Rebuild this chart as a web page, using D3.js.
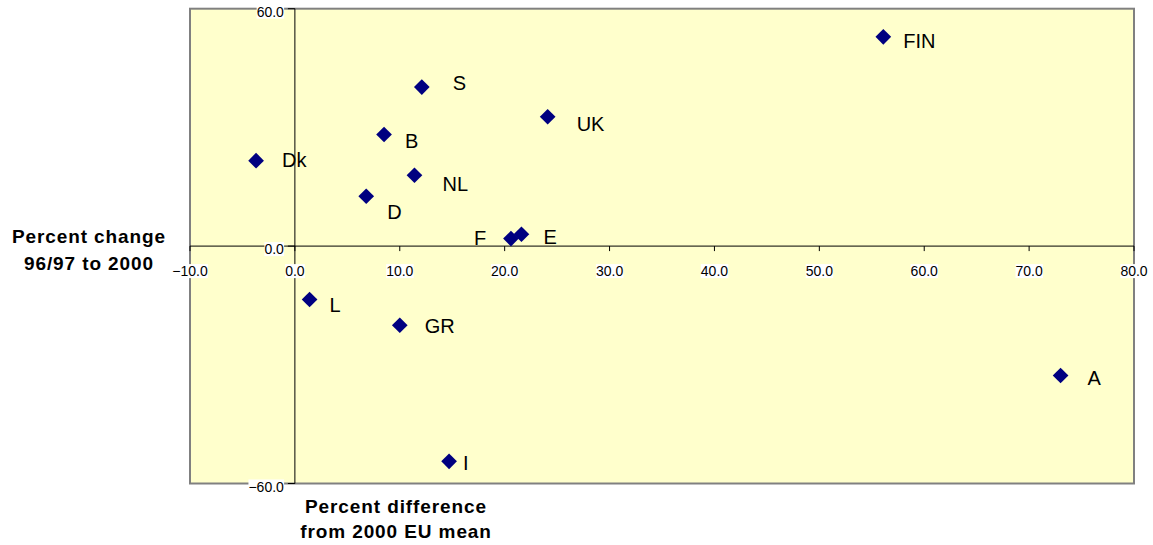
<!DOCTYPE html>
<html><head><meta charset="utf-8">
<script src="https://cdn.jsdelivr.net/npm/d3@7"></script>
<style>
html,body{margin:0;padding:0;background:#fff;}
svg{display:block;font-family:"Liberation Sans",Arial,sans-serif;}
</style></head>
<body>
<svg id="chart" width="1153" height="545"></svg>
<script>
// ---- data ----
const countries = ["FIN","A","I","GR","L","Dk","B","D","S","UK","NL","F","E"];
const pctDiffFromMean = [56.1, 73.0, 14.7, 10.0, 1.4, -3.7, 8.5, 6.8, 12.1, 24.1, 11.4, 20.6, 21.6];
const pctChange = [52.9, -32.7, -54.4, -20.0, -13.5, 21.6, 28.2, 12.6, 40.2, 32.7, 17.9, 1.9, 3.0];
const xTicks = [-10,0,10,20,30,40,50,60,70,80];
const yTicks = [60,0,-60];
const yTitleLines = ["Percent change","96/97 to 2000"];
const xTitleLines = ["Percent difference","from 2000 EU mean"];

// label placement (px offsets from marker: start x, cap-centre y)
const labelOffset = {FIN:[20,4],A:[27,3],I:[14,2],GR:[25,1],L:[20,5],Dk:[26,-1],
  B:[21,6],D:[21,16],S:[31,-4],UK:[29,7],NL:[28,9],F:[-37,-1],E:[22,3]};

const svg = d3.select("#chart");
const x = d3.scaleLinear().domain([-10,80]).range([190,1134]);
const y = d3.scaleLinear().domain([-60,60]).range([483.5,8.7]);

// plot area
svg.append("rect").attr("x",x(-10)).attr("y",y(60)).attr("width",x(80)-x(-10)).attr("height",y(-60)-y(60))
  .attr("fill","#FFFFCC").attr("stroke","#808080").attr("stroke-width",2);

const axisG = svg.append("g");
// x axis line at y=0
axisG.append("line").attr("x1",x(-10)).attr("x2",x(80)).attr("y1",y(0)).attr("y2",y(0)).attr("stroke","#000");
axisG.selectAll(".xt").data(xTicks).join("line")
  .attr("x1",d=>x(d)).attr("x2",d=>x(d)).attr("y1",y(0)).attr("y2",y(0)+5).attr("stroke","#000");
// y axis line at x=0
axisG.append("line").attr("x1",x(0)).attr("x2",x(0)).attr("y1",y(60)).attr("y2",y(-60)).attr("stroke","#000");
axisG.selectAll(".yt").data(yTicks).join("line")
  .attr("x1",x(0)-7).attr("x2",x(0)).attr("y1",d=>y(d)).attr("y2",d=>y(d)).attr("stroke","#000");

const fmt = d3.format(".1f");
function labelWithBg(g, tx, ty, text, anchor){
  const t = g.append("text").attr("x",tx).attr("y",ty).attr("text-anchor",anchor)
    .attr("font-size",14).attr("fill","#000").text(text);
  const bb = t.node().getBBox();
  g.insert("rect","text").attr("x",bb.x).attr("y",bb.y+1).attr("width",bb.width).attr("height",bb.height-2).attr("fill","#fff");
  return t;
}
const xtg = svg.append("g");
xTicks.forEach(v=>{
  const g = xtg.append("g");
  labelWithBg(g, x(v), y(0)+30, fmt(v), "middle");
});
const ytg = svg.append("g");
yTicks.forEach(v=>{
  const g = ytg.append("g");
  labelWithBg(g, x(0)-11, y(v)+8, fmt(v), "end");
});

// axis titles
const yt = svg.append("text").attr("text-anchor","middle").attr("font-weight","bold")
  .attr("font-size",19).attr("letter-spacing","0.9px");
yTitleLines.forEach((l,i)=>yt.append("tspan").attr("x",89).attr("y",243+i*27).text(l));
const xt = svg.append("text").attr("text-anchor","middle").attr("font-weight","bold")
  .attr("font-size",19).attr("letter-spacing","0.9px");
xTitleLines.forEach((l,i)=>xt.append("tspan").attr("x",396).attr("y",513+i*25).text(l));

// points
const data = countries.map((c,i)=>({c, xv:pctDiffFromMean[i], yv:pctChange[i]}));
const sym = d3.symbol().type(d3.symbolSquare).size(123);
svg.append("g").selectAll("path").data(data).join("path")
  .attr("d",sym)
  .attr("transform",d=>`translate(${x(d.xv)},${y(d.yv)}) rotate(45)`)
  .attr("fill","#000080");
svg.append("g").selectAll("text").data(data).join("text")
  .attr("x",d=>x(d.xv)+labelOffset[d.c][0])
  .attr("y",d=>y(d.yv)+labelOffset[d.c][1]+7)
  .attr("font-size",20).attr("fill","#000").text(d=>d.c);
</script>
</body></html>
